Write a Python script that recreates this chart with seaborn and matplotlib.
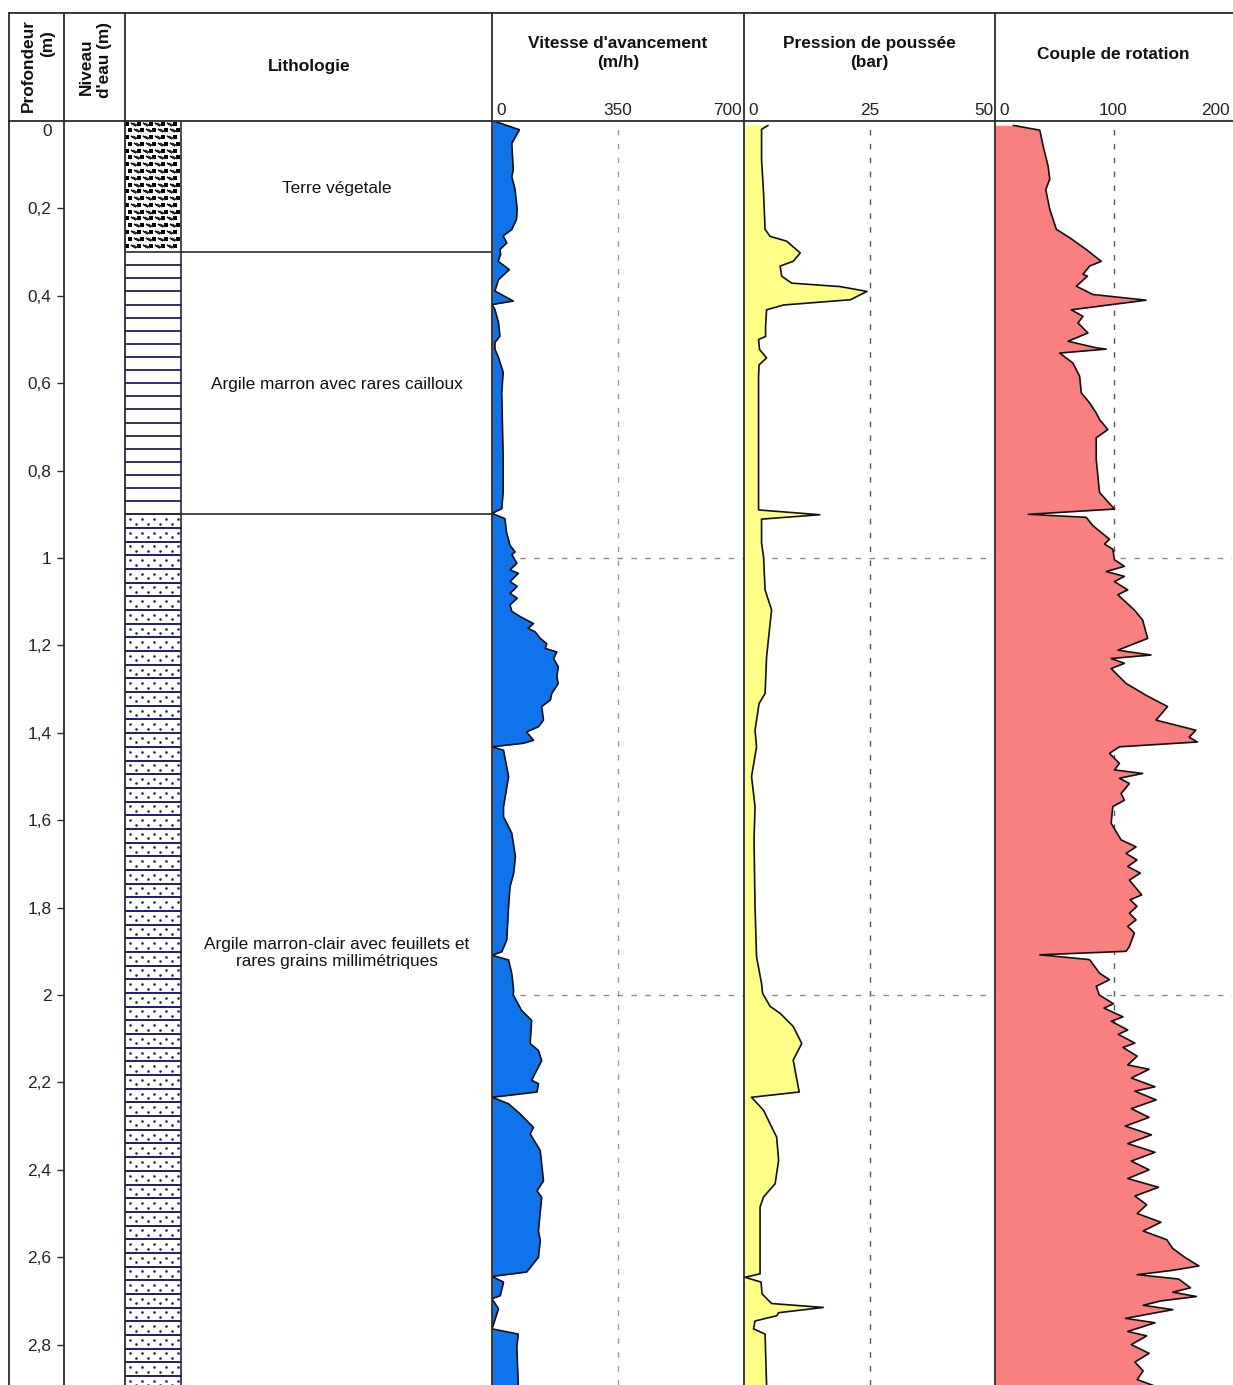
import numpy as np
import pandas as pd
import matplotlib
matplotlib.use("Agg")
import matplotlib.pyplot as plt
import matplotlib.transforms as mtransforms
import seaborn as sns

sns.set_style("white")
plt.rcParams['font.family'] = ['Liberation Sans', 'DejaVu Sans']

vit_depth = [0.000, 0.020, 0.051, 0.112, 0.127, 0.157, 0.202, 0.225, 0.248, 0.263, 0.279, 0.294, 0.305,
             0.321, 0.340, 0.363, 0.389, 0.412, 0.420, 0.431, 0.461, 0.492, 0.507, 0.522, 0.541, 0.575,
             0.621, 0.697, 0.773, 0.849, 0.887, 0.898, 0.910, 0.940, 0.971, 0.986, 0.992, 1.012, 1.027,
             1.035, 1.054, 1.065, 1.081, 1.092, 1.107, 1.122, 1.134, 1.150, 1.161, 1.169, 1.184, 1.196,
             1.207, 1.215, 1.230, 1.249, 1.272, 1.287, 1.310, 1.325, 1.340, 1.371, 1.386, 1.398, 1.417,
             1.424, 1.432, 1.440, 1.500, 1.569, 1.592, 1.630, 1.683, 1.722, 1.752, 1.798, 1.874, 1.901,
             1.909, 1.920, 1.951, 1.989, 2.000, 2.035, 2.058, 2.111, 2.127, 2.150, 2.195, 2.203, 2.222,
             2.234, 2.249, 2.272, 2.303, 2.318, 2.356, 2.425, 2.448, 2.463, 2.539, 2.562, 2.600, 2.634,
             2.644, 2.657, 2.688, 2.695, 2.718, 2.741, 2.764, 2.776, 2.806, 2.895]
vit_value = [5, 76, 55, 59, 55, 64, 70, 68, 55, 31, 41, 22, 24,
             17, 48, 18, 8, 59, 0, 8, 18, 22, 8, 8, 18, 31,
             27, 29, 31, 31, 27, 0, 36, 40, 50, 64, 55, 69, 50,
             73, 50, 70, 50, 70, 50, 55, 78, 115, 100, 120, 134, 152,
             148, 180, 171, 184, 180, 184, 166, 162, 138, 143, 129, 96, 115,
             87, 0, 32, 46, 32, 32, 55, 65, 60, 50, 46, 41, 27,
             0, 46, 55, 60, 59, 82, 110, 106, 129, 138, 110, 129, 125,
             0, 46, 78, 115, 106, 134, 143, 125, 138, 129, 134, 129, 96,
             0, 32, 23, 0, 18, 9, 0, 73, 69, 73]

pre_depth = [0.010, 0.019, 0.089, 0.165, 0.248, 0.264, 0.275, 0.302, 0.321, 0.332, 0.355, 0.371, 0.379,
             0.390, 0.409, 0.421, 0.432, 0.470, 0.493, 0.500, 0.523, 0.542, 0.558, 0.584, 0.737, 0.890,
             0.901, 0.911, 0.966, 0.997, 1.073, 1.119, 1.150, 1.226, 1.310, 1.333, 1.394, 1.432, 1.500,
             1.569, 1.645, 1.798, 1.913, 1.974, 1.996, 2.026, 2.042, 2.072, 2.111, 2.149, 2.210, 2.222,
             2.234, 2.264, 2.302, 2.325, 2.378, 2.432, 2.462, 2.485, 2.638, 2.646, 2.657, 2.684, 2.706,
             2.715, 2.727, 2.734, 2.746, 2.764, 2.776, 2.895]
pre_value = [4.8, 3.5, 3.5, 3.9, 4.2, 5.2, 8.5, 11.2, 9.8, 7.2, 7.5, 9.5, 19.2,
             24.5, 21.2, 7.9, 4.5, 4.3, 4.3, 2.9, 3.1, 4.5, 3.0, 2.9, 2.9, 2.9,
             15.1, 3.5, 3.5, 3.9, 4.2, 5.5, 5.2, 4.5, 4.2, 3.0, 2.2, 2.5, 1.5,
             2.2, 2.0, 2.2, 2.5, 3.5, 3.7, 5.2, 7.2, 9.8, 11.5, 9.8, 10.8, 11.0,
             1.5, 3.9, 5.5, 6.5, 6.9, 6.2, 3.9, 3.2, 3.2, 0.2, 3.4, 3.6, 5.5,
             15.8, 6.9, 6.5, 2.2, 1.9, 4.2, 4.5]

cou_depth = [0.010, 0.021, 0.057, 0.103, 0.133, 0.157, 0.202, 0.248, 0.267, 0.294, 0.321, 0.332, 0.351,
             0.355, 0.378, 0.397, 0.410, 0.432, 0.447, 0.462, 0.485, 0.504, 0.519, 0.522, 0.531, 0.554,
             0.584, 0.622, 0.645, 0.668, 0.683, 0.706, 0.725, 0.774, 0.812, 0.850, 0.888, 0.900, 0.907,
             0.926, 0.957, 0.968, 0.980, 1.004, 1.019, 1.031, 1.042, 1.054, 1.073, 1.084, 1.119, 1.142,
             1.184, 1.211, 1.222, 1.230, 1.241, 1.253, 1.287, 1.314, 1.340, 1.371, 1.394, 1.410, 1.421,
             1.432, 1.447, 1.470, 1.485, 1.493, 1.504, 1.516, 1.539, 1.554, 1.569, 1.607, 1.645, 1.661,
             1.676, 1.691, 1.706, 1.721, 1.737, 1.771, 1.782, 1.797, 1.813, 1.828, 1.843, 1.858, 1.889,
             1.900, 1.908, 1.919, 1.950, 1.965, 1.980, 2.000, 2.020, 2.030, 2.050, 2.060, 2.080, 2.090,
             2.110, 2.120, 2.140, 2.160, 2.170, 2.190, 2.210, 2.220, 2.240, 2.260, 2.280, 2.300, 2.320,
             2.340, 2.360, 2.380, 2.400, 2.420, 2.440, 2.460, 2.480, 2.500, 2.520, 2.540, 2.560, 2.580,
             2.600, 2.620, 2.630, 2.640, 2.650, 2.670, 2.680, 2.690, 2.700, 2.710, 2.720, 2.740, 2.750,
             2.770, 2.780, 2.800, 2.820, 2.840, 2.860, 2.880, 2.900]
cou_value = [15.4, 37.8, 40.6, 44.8, 46.2, 42.8, 46.2, 51.8, 63.0, 77.0, 89.6, 79.8, 74.2,
             78.0, 68.6, 82.6, 127.4, 64.4, 74.2, 70.0, 78.4, 61.6, 85.4, 93.8, 54.6, 65.8,
             71.4, 72.8, 79.8, 85.4, 88.2, 95.2, 85.4, 85.4, 86.8, 88.2, 100.8, 28.0, 77.0,
             82.6, 96.6, 92.4, 99.4, 100.8, 109.2, 93.8, 109.2, 100.8, 112.0, 103.6, 117.6, 124.6,
             128.8, 103.6, 131.6, 98.0, 109.2, 98.0, 110.6, 127.4, 145.6, 135.8, 169.4, 163.8, 170.8,
             105.0, 96.6, 105.0, 100.8, 124.6, 105.0, 113.4, 106.4, 109.2, 99.4, 98.0, 106.4, 119.0,
             110.6, 119.8, 112.0, 122.6, 113.4, 123.8, 114.0, 119.8, 113.4, 119.0, 112.0, 117.6, 113.4,
             110.6, 37.8, 79.8, 88.2, 96.6, 85.4, 88, 100, 92, 108, 98, 112, 104,
             118, 108, 120, 112, 130, 115, 135, 118, 136, 115, 130, 110, 132,
             112, 135, 115, 130, 112, 138, 118, 128, 120, 140, 125, 145, 150,
             160, 172, 150, 120, 155, 165, 150, 170, 140, 125, 150, 110, 135,
             112, 128, 115, 130, 118, 125, 120, 140]

layer_top = [0.0, 0.3, 0.9]
layer_bot = [0.3, 0.9, 2.9]
layer_names = ["Terre végetale",
               "Argile marron avec rares cailloux",
               "Argile marron-clair avec feuillets et\nrares grains millimétriques"]

depth_ticks = [0, 0.2, 0.4, 0.6, 0.8, 1, 1.2, 1.4, 1.6, 1.8, 2, 2.2, 2.4, 2.6, 2.8]
depth_labels = ["0", "0,2", "0,4", "0,6", "0,8", "1", "1,2", "1,4", "1,6", "1,8",
                "2", "2,2", "2,4", "2,6", "2,8"]

tracks = [
    ("Vitesse d'avancement\n(m/h)", vit_depth, vit_value, [0, 350, 700], "#0f74ec"),
    ("Pression de poussée\n(bar)", pre_depth, pre_value, [0, 25, 50], "#ffff88"),
    ("Couple de rotation", cou_depth, cou_value, [0, 100, 200], "#fa8080"),
]

# ---- layout (pixels) ----
W, H = 1233, 1385
top_hdr, top_data = 13, 121
px_per_m = 437.0
depth_max = (H - top_data) / px_per_m
col_x = [9, 64, 125, 492, 744, 995, 1232]
FS = 12.4
dark = "#2b2b2b"

fig = plt.figure(figsize=(W / 100, H / 100), dpi=100)


def data_axes(x0, x1):
    ax = fig.add_axes([x0 / W, 0, (x1 - x0) / W, (H - top_data) / H])
    ax.set_ylim(depth_max, 0)
    for s in ax.spines.values():
        s.set_visible(False)
    ax.patch.set_alpha(0)
    return ax


# depth scale (ticks out of the niveau d'eau column)
ax_d = data_axes(col_x[1], col_x[2])
ax_d.set_xticks([])
ax_d.set_yticks(depth_ticks)
ax_d.set_yticklabels(depth_labels)
ax_d.tick_params(axis='y', left=True, direction='out', length=5, width=1, color=dark,
                 pad=4, labelsize=FS, labelcolor="#222")
ax_d.get_yticklabels()[0].set_va('top')
ax_d.yaxis.get_major_ticks()[0].tick1line.set_visible(False)
lab0 = ax_d.get_yticklabels()[0]
lab0.set_transform(lab0.get_transform() + mtransforms.ScaledTranslation(0, -3 / 100, fig.dpi_scale_trans))

# lithology column
ax_l = data_axes(col_x[2], col_x[3])
lw_px = col_x[3] - col_x[2]
pat_w = 56
ax_l.set_xlim(0, lw_px)
ax_l.set_xticks([])
ax_l.set_yticks([])
navy = "#1d1d70"

# terre vegetale texture
rows = np.arange(layer_top[0] + 0.006, layer_bot[0], 0.0155)
for i, d in enumerate(rows):
    xs = np.arange(2 + (i % 2) * 3, pat_w - 1, 6)
    ax_l.scatter(xs[::2], np.full(len(xs[::2]), d), marker='s', s=6, color='k', lw=0)
    ax_l.scatter(xs[1::2], np.full(len(xs[1::2]), d), marker=(2, 2, 60), s=12, color='#111', lw=1.0)
    ax_l.scatter(xs[1::2] + 1.5, np.full(len(xs[1::2]), d), marker=(2, 2, 60), s=12, color='#333', lw=0.8)

# argile marron : horizontal lines
for d in np.arange(layer_top[1], layer_bot[1], 0.03)[1:]:
    ax_l.plot([0, pat_w], [d, d], color=navy, lw=1.3)

# argile marron-clair : lines + dots
step = 0.0313
lines3 = np.arange(layer_top[2], layer_bot[2], step)
for d in lines3[1:]:
    ax_l.plot([0, pat_w], [d, d], color=navy, lw=1.4)
for d in lines3:
    xa = np.arange(5, pat_w, 12)
    xb = xa + 6
    ax_l.scatter(xa, np.full(len(xa), d + step * 0.35), s=3.5, color=navy, lw=0)
    ax_l.scatter(xb[xb < pat_w], np.full(len(xb[xb < pat_w]), d + step * 0.68), s=3.5, color=navy, lw=0)

ax_l.axvline(pat_w, color=dark, lw=1.2)
for t, b, name in zip(layer_top, layer_bot, layer_names):
    if t > 0:
        ax_l.plot([0, lw_px], [t, t], color=dark, lw=1.2)
    ax_l.text((pat_w + lw_px) / 2, (t + b) / 2 + 0.004, name, ha='center', va='center',
              fontsize=FS, color="#111", linespacing=1.1)

# curve tracks
for k, (title, dep, val, ticks, color) in enumerate(tracks):
    x0, x1 = col_x[3 + k], col_x[4 + k]
    ax = data_axes(x0, x1)
    df = pd.DataFrame({"depth": dep, "value": val})
    ax.fill_betweenx(df["depth"], 0, df["value"], color=color, lw=0)
    sns.lineplot(data=df, x="value", y="depth", orient="y", sort=False, estimator=None,
                 color="#111111", lw=1.2, ax=ax)
    ax.set_xlim(ticks[0], ticks[-1])
    ax.set_ylim(depth_max, 0)
    ax.set_xlabel("")
    ax.set_ylabel("")
    ax.set_yticks([])
    grid_col = "#9a9a9a" if k == 0 else "#555555"
    ax.axvline(ticks[1], color=grid_col, lw=1, ls=(0, (4, 6)), zorder=0.5)
    for d in [1, 2]:
        ax.axhline(d, color="#8a8a8a", lw=1, ls=(0, (4, 6)), zorder=0.5)
    ax.set_xticks(ticks)
    ax.set_xticklabels([str(t) for t in ticks])
    ax.tick_params(axis='x', top=True, labeltop=True, bottom=False, labelbottom=False,
                   length=0, pad=2, labelsize=FS, labelcolor="#222")
    labs = ax.get_xticklabels()
    labs[0].set_ha('left')
    labs[-1].set_ha('right')
    labs[0].set_transform(labs[0].get_transform() + mtransforms.ScaledTranslation(4 / 100, 0, fig.dpi_scale_trans))
    labs[-1].set_transform(labs[-1].get_transform() + mtransforms.ScaledTranslation(-2 / 100, 0, fig.dpi_scale_trans))
    ty = 1 - 53 / H if "\n" in title else 1 - 54 / H
    fig.text(((x0 + x1) / 2) / W, ty, title, ha='center', va='center', fontsize=FS,
             fontweight='bold', color="#111", linespacing=1.3)

# frame and header texts
ov = fig.add_axes([0, 0, 1, 1], zorder=10)
ov.set_xlim(0, W)
ov.set_ylim(H, 0)
ov.axis('off')
ov.patch.set_alpha(0)
ov.plot([col_x[0], W], [top_hdr, top_hdr], color=dark, lw=1.3)
ov.plot([col_x[0], W], [top_data, top_data], color=dark, lw=1.3)
for x in col_x[:-1]:
    ov.plot([x, x], [top_hdr, H], color=dark, lw=1.3)

ov.text(309, 67, "Lithologie", ha='center', va='center', fontsize=FS, fontweight='bold', color="#111")
ov.text(28, 65, "Profondeur", rotation=90, ha='center', va='center', fontsize=FS, fontweight='bold', color="#111")
ov.text(48, 44, "(m)", rotation=90, ha='center', va='center', fontsize=FS, fontweight='bold', color="#111")
ov.text(86, 67, "Niveau", rotation=90, ha='center', va='center', fontsize=FS, fontweight='bold', color="#111")
ov.text(104, 60, "d'eau (m)", rotation=90, ha='center', va='center', fontsize=FS, fontweight='bold', color="#111")

fig.savefig("out.png", dpi=100)
